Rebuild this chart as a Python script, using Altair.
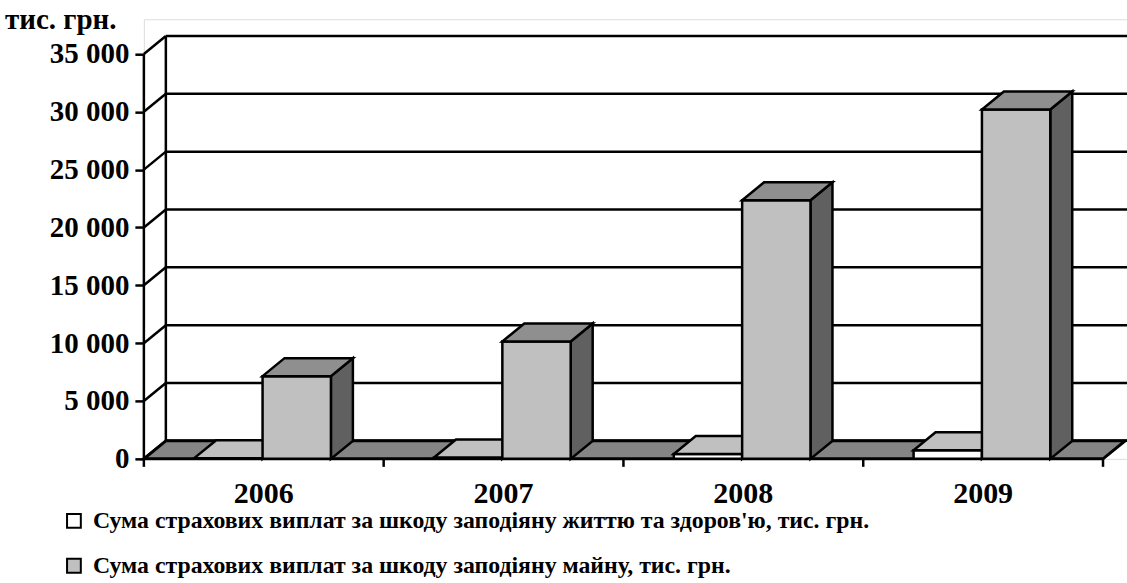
import altair as alt
import pandas as pd

# Data: insurance payouts, thousand UAH
years = ["2006", "2007", "2008", "2009"]
life_health = [60, 120, 420, 750]          # damage to life and health
property_dmg = [7150, 10150, 22350, 30200]  # damage to property
series_names = [
    "Сума страхових виплат за шкоду заподіяну життю та здоров'ю, тис. грн.",
    "Сума страхових виплат за шкоду заподіяну майну, тис. грн.",
]
y_ticks = [0, 5000, 10000, 15000, 20000, 25000, 30000, 35000]

# Layout of the pseudo-3D frame
PLOT_W, PLOT_H = 984, 440
X_MAX, Y_MAX = 4.1, 38000
PX_X = PLOT_W / X_MAX        # pixels per category unit
PX_Y = PLOT_H / Y_MAX        # pixels per value unit
DX = 22 / PX_X               # depth offset (x) in category units
DY = 18 / PX_Y               # depth offset (y) in value units
GAP, BAR_W = 0.21, 0.285     # bar placement inside each category slot
LW = 2.5                     # edge line width

FONT = "Liberation Serif, Times New Roman, serif"
x_sc = alt.Scale(domain=[0, X_MAX], nice=False, zero=False)
y_sc = alt.Scale(domain=[0, Y_MAX], nice=False, zero=False)
y_axis = alt.Axis(
    values=y_ticks,
    labelExpr="replace(format(datum.value, ','), ',', ' ')",
    labelFont=FONT, labelFontWeight="bold", labelFontSize=29,
    labelColor="black", tickColor="black", tickWidth=LW, tickSize=9,
    labelPadding=6, domain=False, grid=False, title=None)


def X(f="x"):
    return alt.X(f"{f}:Q", scale=x_sc, axis=None)


def Y(f="y"):
    return alt.Y(f"{f}:Q", scale=y_sc, axis=y_axis)


# back wall gridlines and left wall diagonals
grid = pd.DataFrame({"y": [t + DY for t in y_ticks], "x": DX, "x2": X_MAX})
back_grid = alt.Chart(grid).mark_rule(color="black", strokeWidth=LW).encode(
    x=X(), x2="x2:Q", y=Y())
diag = pd.DataFrame({"x": 0.0, "x2": DX, "y": y_ticks, "y2": [t + DY for t in y_ticks]})
left_wall = alt.Chart(diag).mark_rule(color="black", strokeWidth=LW).encode(
    x=X(), x2="x2:Q", y=Y(), y2="y2:Q")
verticals = pd.DataFrame({"x": [0.0, DX], "y": [0.0, DY], "y2": [35000, 35000 + DY]})
wall_edges = alt.Chart(verticals).mark_rule(color="black", strokeWidth=LW).encode(
    x=X(), y=Y(), y2="y2:Q")

# floor
n = len(years)
floor_df = pd.DataFrame({"y": [0.0, DY], "x": [0.0, DX], "x2": [float(n), n + DX]})
floor = alt.Chart(floor_df).mark_area(
    orient="horizontal", fill="#858585", stroke="black", strokeWidth=3
).encode(y=Y(), x=X(), x2="x2:Q")

# category ticks under the floor edge
tick_df = pd.DataFrame({"x": [float(i) for i in range(n + 1)]})
cat_ticks = alt.Chart(tick_df).mark_rule(color="black", strokeWidth=LW).encode(
    x=X(), y=alt.value(PLOT_H), y2=alt.value(PLOT_H + 8))


def bar_layers(values, offset, front_col, top_col, side_col):
    fronts, tops, sides = [], [], []
    for i, v in enumerate(values):
        x0 = i + GAP + offset * BAR_W
        x1 = x0 + BAR_W
        fronts.append({"x": x0, "x2": x1, "y": 0.0, "y2": v})
        tops += [{"id": i, "y": v, "x": x0, "x2": x1},
                 {"id": i, "y": v + DY, "x": x0 + DX, "x2": x1 + DX}]
        sides += [{"id": i, "x": x1, "y": 0.0, "y2": v},
                  {"id": i, "x": x1 + DX, "y": DY, "y2": v + DY}]
    front = alt.Chart(pd.DataFrame(fronts)).mark_rect(
        fill=front_col, stroke="black", strokeWidth=LW
    ).encode(x=X(), x2="x2:Q", y=Y(), y2="y2:Q")
    top = alt.Chart(pd.DataFrame(tops)).mark_area(
        orient="horizontal", fill=top_col, stroke="black", strokeWidth=LW
    ).encode(y=Y(), x=X(), x2="x2:Q", detail="id:N")
    side = alt.Chart(pd.DataFrame(sides)).mark_area(
        orient="vertical", fill=side_col, stroke="black", strokeWidth=LW
    ).encode(x=X(), y=Y(), y2="y2:Q", detail="id:N")
    return [side, front, top]


bars1 = bar_layers(life_health, 0, "white", "#c0c0c0", "#808080")
bars2 = bar_layers(property_dmg, 1, "#c0c0c0", "#8f8f8f", "#606060")

# category labels
lab_df = pd.DataFrame({"x": [i + 0.5 for i in range(n)], "t": years})
cat_labels = alt.Chart(lab_df).mark_text(
    font=FONT, fontWeight="bold", fontSize=30, color="black", baseline="middle"
).encode(x=X(), y=alt.value(PLOT_H + 35), text="t:N")

# unit title
unit_title = alt.Chart(pd.DataFrame({"t": ["тис. грн."]})).mark_text(
    font=FONT, fontWeight="bold", fontSize=29, color="black",
    align="left", baseline="middle"
).encode(x=alt.value(-139), y=alt.value(1), text="t:N")

# legend
leg_df = pd.DataFrame({"t": series_names, "fill": ["white", "#c0c0c0"],
                       "yy": [PLOT_H + 62, PLOT_H + 107]})
leg_boxes = alt.Chart(leg_df).mark_square(
    size=190, stroke="black", strokeWidth=2, opacity=1
).encode(x=alt.value(-70), y=alt.Y("yy:Q", scale=None),
         fill=alt.Fill("fill:N", scale=None))
leg_text = alt.Chart(leg_df).mark_text(
    font=FONT, fontWeight="bold", fontSize=23.8, color="black",
    align="left", baseline="middle"
).encode(x=alt.value(-51), y=alt.Y("yy:Q", scale=None), text="t:N")

chart = alt.layer(
    back_grid, left_wall, wall_edges, floor, cat_ticks,
    *bars1, *bars2, cat_labels, unit_title, leg_boxes, leg_text
).properties(
    width=PLOT_W, height=PLOT_H,
    padding={"left": 144, "top": 19, "right": 0, "bottom": 124},
    autosize="none",
).configure_view(stroke=None).configure(background="white")

chart.save("out.html", embed_options={"renderer": "svg", "actions": False})
